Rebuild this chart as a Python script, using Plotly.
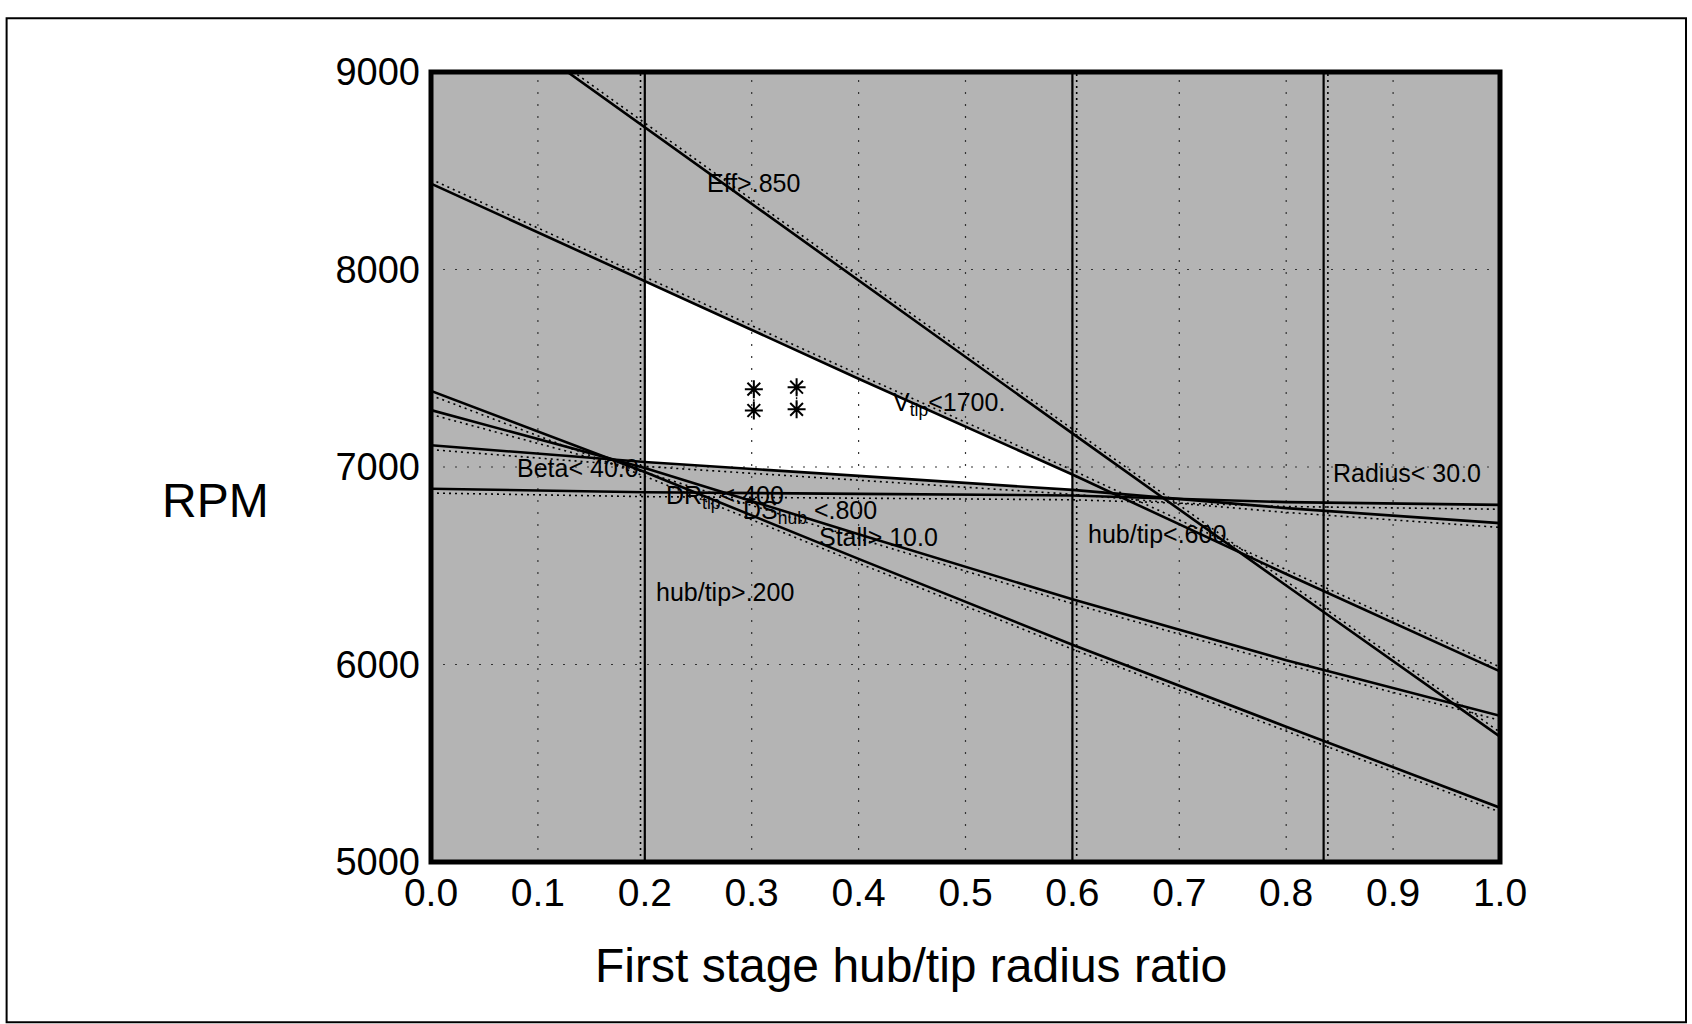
import plotly.graph_objects as go

# ---------------- data ----------------
hub_tip = [0.0, 0.2, 0.4, 0.6, 0.8, 1.0]            # first-stage hub/tip ratio
eff_850 = [9495, 8720, 7945, 7170, 6400, 5635]      # Eff > .850  (infeasible above)
vtip_1700 = [8435, 7942, 7447, 6962, 6458, 5965]    # Vtip < 1700 (infeasible above)
lower_a = [7385, 6975, 6535, 6100, 5685, 5275]      # lower limit lines (infeasible below)
lower_b = [7288, 6995, 6660, 6330, 6022, 5740]
lower_c = [7110, 7025, 6955, 6884, 6792, 6716]
radius_30 = [6890, 6872, 6864, 6856, 6822, 6808]    # Radius < 30.0
hub_tip_min = [0.2]                                 # hub/tip > .200 (infeasible left)
hub_tip_max = [0.6, 0.835]                          # hub/tip < ... (infeasible right)

design_x = [0.302, 0.302, 0.342, 0.342]             # design points (asterisks)
design_rpm = [7394, 7286, 7404, 7292]

x_ticks = [0.0, 0.1, 0.2, 0.3, 0.4, 0.5, 0.6, 0.7, 0.8, 0.9, 1.0]
x_ticktext = ["0.0", "0.1", "0.2", "0.3", "0.4", "0.5", "0.6", "0.7", "0.8", "0.9", "1.0"]
y_ticks = [5000, 6000, 7000, 8000, 9000]

label_text = ["Eff&gt;.850", "V<sub>tip</sub>&lt;1700.", "Beta&lt; 40.0",
              "DR<sub>tip</sub>&lt;.400", "DS<sub>hub</sub> &lt;.800", "Stall&gt; 10.0",
              "hub/tip&gt;.200", "hub/tip&lt;.600", "Radius&lt; 30.0"]
label_x = [0.256, 0.430, 0.079, 0.218, 0.290, 0.361, 0.209, 0.613, 0.842]
label_rpm = [8440, 7320, 6995, 6850, 6772, 6647, 6366, 6662, 6969]

# ---------------- styling ----------------
X_RANGE = [0.0, 1.0]
Y_RANGE = [5000, 9000]
SHADE = "#b4b4b4"
FONT = "Liberation Sans, Arial, sans-serif"
DOT_OFF_RPM = 22
DOT_OFF_X = 0.004

fig = go.Figure()

def shade(xs, ys):
    fig.add_trace(go.Scatter(x=xs, y=ys, fill="toself", fillcolor=SHADE, mode="none",
                             hoverinfo="skip", showlegend=False))

y_far_hi = Y_RANGE[1] + 2000
y_far_lo = Y_RANGE[0] - 2000
x_far_lo = X_RANGE[0] - 0.5
x_far_hi = X_RANGE[1] + 0.5

upper = [eff_850, vtip_1700]
lower = [lower_a, lower_b, lower_c, radius_30]

for vals in upper:
    shade(hub_tip + [hub_tip[-1], hub_tip[0]], vals + [y_far_hi, y_far_hi])
for vals in lower:
    shade(hub_tip + [hub_tip[-1], hub_tip[0]], vals + [y_far_lo, y_far_lo])
for xv in hub_tip_min:
    shade([x_far_lo, xv, xv, x_far_lo], [y_far_lo, y_far_lo, y_far_hi, y_far_hi])
for xv in hub_tip_max:
    shade([xv, x_far_hi, x_far_hi, xv], [y_far_lo, y_far_lo, y_far_hi, y_far_hi])

# dotted grid drawn above the shading
grid_style = dict(color="#333333", width=1.2, dash="2px,10px")
for xv in x_ticks[1:-1]:
    fig.add_trace(go.Scatter(x=[xv, xv], y=Y_RANGE, mode="lines", line=grid_style,
                             hoverinfo="skip", showlegend=False))
for yv in y_ticks[1:-1]:
    fig.add_trace(go.Scatter(x=X_RANGE, y=[yv, yv], mode="lines", line=grid_style,
                             hoverinfo="skip", showlegend=False))

# dotted companion lines on the infeasible side
dot_style = dict(color="black", width=1.6, dash="2px,4px")
for vals in upper:
    fig.add_trace(go.Scatter(x=hub_tip, y=[v + DOT_OFF_RPM for v in vals], mode="lines",
                             line=dot_style, hoverinfo="skip", showlegend=False))
for vals in lower:
    fig.add_trace(go.Scatter(x=hub_tip, y=[v - DOT_OFF_RPM for v in vals], mode="lines",
                             line=dot_style, hoverinfo="skip", showlegend=False))
for xv in hub_tip_min:
    fig.add_trace(go.Scatter(x=[xv - DOT_OFF_X] * 2, y=Y_RANGE, mode="lines",
                             line=dot_style, hoverinfo="skip", showlegend=False))
for xv in hub_tip_max:
    fig.add_trace(go.Scatter(x=[xv + DOT_OFF_X] * 2, y=Y_RANGE, mode="lines",
                             line=dot_style, hoverinfo="skip", showlegend=False))

# solid constraint lines
solid = dict(color="black", width=2.6)
for vals in upper + lower:
    fig.add_trace(go.Scatter(x=hub_tip, y=vals, mode="lines", line=solid,
                             hoverinfo="skip", showlegend=False))
for xv in hub_tip_min + hub_tip_max:
    fig.add_trace(go.Scatter(x=[xv, xv], y=Y_RANGE, mode="lines", line=dict(color="black", width=2.2),
                             hoverinfo="skip", showlegend=False))

# design points: pairs joined with a dotted line
px, py = [], []
for i in range(0, len(design_x), 2):
    px += design_x[i:i + 2] + [None]
    py += design_rpm[i:i + 2] + [None]
fig.add_trace(go.Scatter(x=px, y=py, mode="lines+markers", connectgaps=False,
                         line=dict(color="black", width=1.4, dash="2px,3px"),
                         marker=dict(symbol="asterisk-open", size=15,
                                     line=dict(color="black", width=2)),
                         showlegend=False))

for t, xv, yv in zip(label_text, label_x, label_rpm):
    fig.add_annotation(x=xv, y=yv, text=t, showarrow=False, xanchor="left", yanchor="middle",
                       font=dict(family=FONT, size=25, color="black"))

# horizontal y-axis title and x-axis title
fig.add_annotation(xref="paper", yref="paper", x=-0.2015, y=0.457, text="RPM", showarrow=False,
                   xanchor="center", yanchor="middle", font=dict(family=FONT, size=48, color="black"))
fig.add_annotation(xref="paper", yref="paper", x=0.449, y=-0.1316,
                   text="First stage hub/tip radius ratio", showarrow=False,
                   xanchor="center", yanchor="middle", font=dict(family=FONT, size=48, color="black"))

# plot frame and outer page frame
fig.add_shape(type="rect", xref="paper", yref="paper", x0=0, x1=1, y0=0, y1=1,
              line=dict(color="black", width=5), layer="above")
fig.add_shape(type="rect", xref="paper", yref="paper", x0=-0.397, x1=1.174, y0=-0.203, y1=1.068,
              line=dict(color="black", width=2), layer="above")

fig.update_layout(
    width=1692, height=1024,
    margin=dict(l=431, r=192, t=72, b=162),
    paper_bgcolor="white", plot_bgcolor="white",
    font=dict(family=FONT, color="black"),
    showlegend=False,
    xaxis=dict(range=X_RANGE, tickvals=x_ticks, ticktext=x_ticktext, showgrid=False, zeroline=False,
               showline=False, ticks="", tickfont=dict(size=39, family=FONT), ticklabelstandoff=4),
    yaxis=dict(range=Y_RANGE, tickvals=y_ticks, showgrid=False, zeroline=False, showline=False,
               ticks="", tickfont=dict(size=38, family=FONT), ticklabelstandoff=10),
)

fig.write_html("out.html", config={"displayModeBar": False},
               post_script="document.body.style.margin='0px';")
